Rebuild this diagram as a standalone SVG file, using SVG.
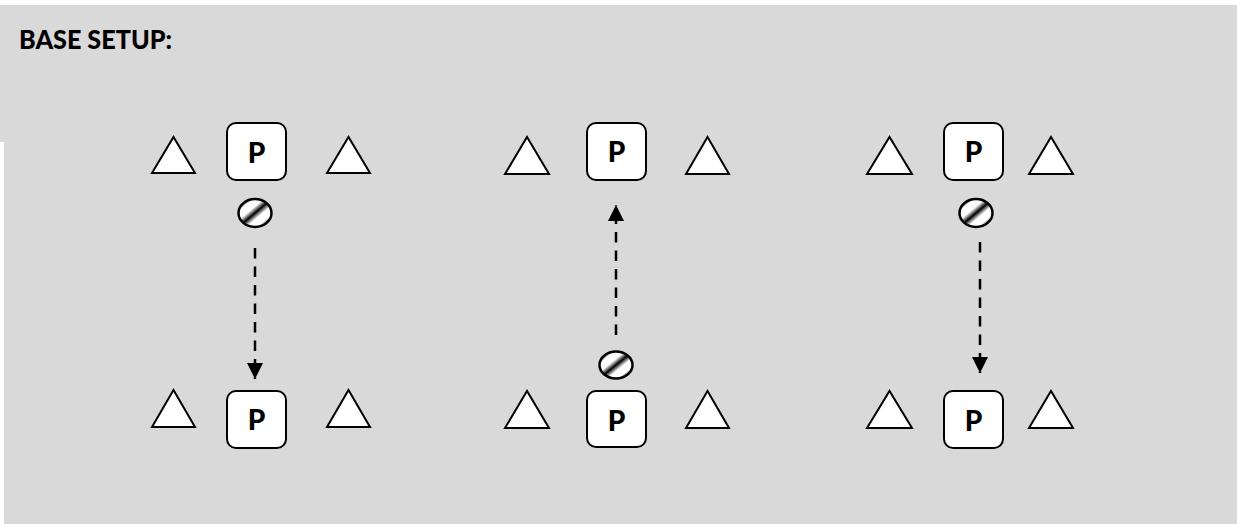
<svg xmlns="http://www.w3.org/2000/svg" width="1237" height="524" viewBox="0 0 1237 524">
<style>
.tri{fill:#fff;stroke:#000;stroke-width:2;stroke-linejoin:miter}
.box{fill:#fff;stroke:#000;stroke-width:2}
.lbl{font-family:Lato,"Open Sans","Liberation Sans",sans-serif;font-weight:900;font-size:28px;fill:#000;text-anchor:middle}
.ball{fill:url(#stripe);stroke:#000;stroke-width:2.5}
.dash{stroke:#000;stroke-width:2.5;stroke-dasharray:10.5 8;fill:none}
</style>
<defs>
<linearGradient id="stripe" x1="0" y1="0" x2="1" y2="1">
<stop offset="0" stop-color="#fff"/>
<stop offset="0.12" stop-color="#000"/>
<stop offset="0.22" stop-color="#fff"/>
<stop offset="0.38" stop-color="#fff"/>
<stop offset="0.5" stop-color="#000"/>
<stop offset="0.62" stop-color="#fff"/>
<stop offset="0.78" stop-color="#fff"/>
<stop offset="0.88" stop-color="#000"/>
<stop offset="1" stop-color="#fff"/>
</linearGradient>
<marker id="ah" viewBox="0 0 16 16" refX="16" refY="8" markerWidth="16" markerHeight="16" markerUnits="userSpaceOnUse" orient="auto">
<path d="M0,0 L16,8 L0,16 Z" fill="#000"/>
</marker>
</defs>
<rect x="0" y="0" width="1237" height="524" fill="#fff"/>
<rect x="0" y="5" width="1237" height="137" fill="#d9d9d9"/>
<rect x="4" y="140" width="1233" height="384" fill="#d9d9d9"/>
<text x="19" y="49" font-family="Lato, Open Sans, Liberation Sans, sans-serif" font-weight="900" font-size="27" textLength="153" lengthAdjust="spacingAndGlyphs">BASE SETUP:</text>

<g id="connectors">
<line class="dash" x1="255" y1="248" x2="255" y2="379" marker-end="url(#ah)"/>
<line class="dash" x1="616" y1="335" x2="616" y2="205" marker-end="url(#ah)"/>
<line class="dash" x1="980" y1="242" x2="980" y2="373" marker-end="url(#ah)"/>
</g>

<g id="col1-top">
<polygon class="tri" points="152,173 173.5,137 195,173"/>
<rect class="box" x="227" y="123" width="59" height="57" rx="9"/>
<text class="lbl" x="256.5" y="163">P</text>
<polygon class="tri" points="327,173 348.5,137 370,173"/>
</g>
<g id="col1-ball"><ellipse class="ball" cx="255" cy="213" rx="16.5" ry="14"/></g>
<g id="col1-bottom">
<polygon class="tri" points="152,427 173.5,390 195,427"/>
<rect class="box" x="227" y="391" width="59" height="57" rx="9"/>
<text class="lbl" x="256.5" y="430">P</text>
<polygon class="tri" points="327,427 348.5,390 370,427"/>
</g>

<g id="col2-top">
<polygon class="tri" points="505,174 527,137 549,174"/>
<rect class="box" x="587" y="123" width="59" height="57" rx="9"/>
<text class="lbl" x="616.5" y="162">P</text>
<polygon class="tri" points="686,174 707.5,137 729,174"/>
</g>
<g id="col2-ball"><ellipse class="ball" cx="616" cy="365" rx="16.5" ry="13.5"/></g>
<g id="col2-bottom">
<polygon class="tri" points="505,428 527,391 549,428"/>
<rect class="box" x="587" y="391" width="59" height="56" rx="9"/>
<text class="lbl" x="616.5" y="431">P</text>
<polygon class="tri" points="686,428 707.5,391 729,428"/>
</g>

<g id="col3-top">
<polygon class="tri" points="867,174 889.5,137 912,174"/>
<rect class="box" x="944" y="123" width="59" height="57" rx="9"/>
<text class="lbl" x="973.5" y="162">P</text>
<polygon class="tri" points="1029,174 1051,137 1073,174"/>
</g>
<g id="col3-ball"><ellipse class="ball" cx="976" cy="213" rx="16.5" ry="14"/></g>
<g id="col3-bottom">
<polygon class="tri" points="867,428 889.5,391 912,428"/>
<rect class="box" x="944" y="391" width="59" height="57" rx="9"/>
<text class="lbl" x="973.5" y="431">P</text>
<polygon class="tri" points="1029,428 1051,391 1073,428"/>
</g>
</svg>
